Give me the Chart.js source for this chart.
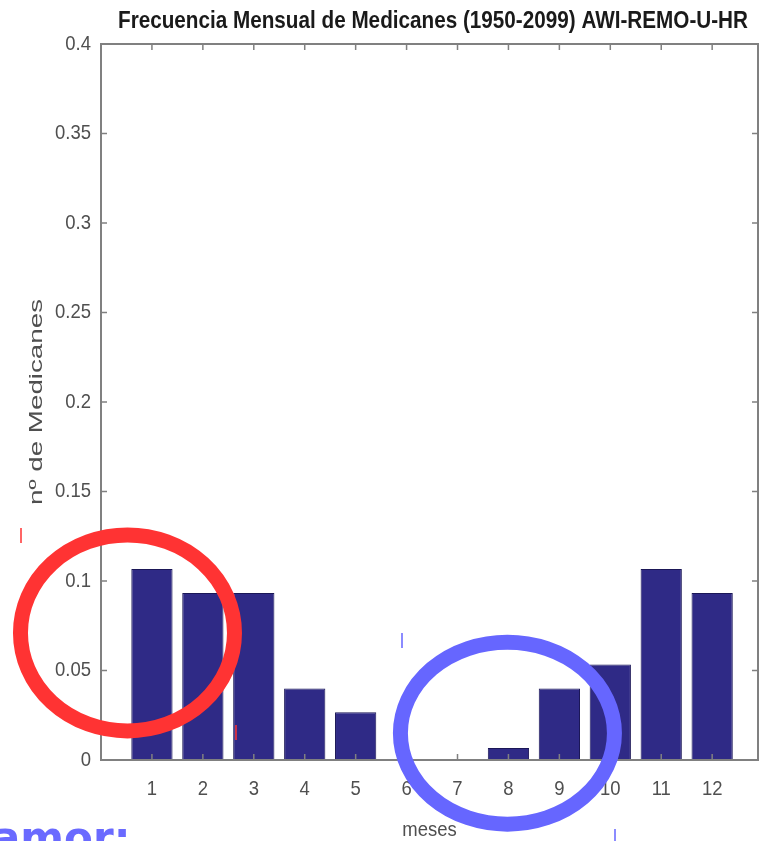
<!DOCTYPE html>
<html>
<head>
<meta charset="utf-8">
<script src="https://cdn.jsdelivr.net/npm/chart.js@4.4.1/dist/chart.umd.min.js"></script>
<style>
  html, body { margin: 0; padding: 0; background: #fff; }
  #wrap { width: 762px; height: 841px; position: relative; overflow: hidden; }
</style>
</head>
<body>
<div id="wrap"><canvas id="chart" width="762" height="841"></canvas></div>
<script>
// monthly medicane frequency, AWI-REMO-U-HR run
const months = [1, 2, 3, 4, 5, 6, 7, 8, 9, 10, 11, 12];
const monthLabels = ["1", "2", "3", "4", "5", "6", "7", "8", "9", "10", "11", "12"];
const medicanes = [0.1067, 0.0933, 0.0933, 0.04, 0.0267, 0, 0, 0.0067, 0.04, 0.0533, 0.1067, 0.0933];
const yTicks = [0, 0.05, 0.1, 0.15, 0.2, 0.25, 0.3, 0.35, 0.4];

const TITLE = "Frecuencia Mensual de Medicanes (1950-2099) AWI-REMO-U-HR";
const SANS = "'Liberation Sans', Arial, sans-serif";
const AXIS_GREY = "#808080";
const LABEL_GREY = "#4f4f4f";

// highlight rings, centred in data units
const rings = [
  { x: 0.52, y: 0.071, rx: 107, ry: 98, color: "#ff3333" },
  { x: 7.98, y: 0.015, rx: 107, ry: 91, color: "#6666ff" },
];

// condensed text: squeeze horizontally, keep the height
function squished(ctx, text, x, y, align, sx) {
  ctx.save();
  ctx.translate(x, y);
  ctx.scale(sx, 1);
  ctx.textAlign = align;
  ctx.fillText(text, 0, 0);
  ctx.restore();
}

const boxAndMarks = {
  id: "boxAndMarks",
  afterDatasetsDraw(chart) {
    const { ctx, chartArea: a, scales } = chart;
    ctx.save();
    ctx.strokeStyle = AXIS_GREY;
    ctx.lineWidth = 2;
    ctx.strokeRect(a.left, a.top, a.right - a.left, a.bottom - a.top);
    ctx.lineWidth = 1.5;
    ctx.beginPath();
    yTicks.forEach(v => {
      const py = scales.y.getPixelForValue(v);
      ctx.moveTo(a.left, py); ctx.lineTo(a.left + 6, py);
      ctx.moveTo(a.right, py); ctx.lineTo(a.right - 6, py);
    });
    months.forEach(m => {
      const px = scales.x.getPixelForValue(m);
      ctx.moveTo(px, a.bottom); ctx.lineTo(px, a.bottom - 6);
      ctx.moveTo(px, a.top); ctx.lineTo(px, a.top + 6);
    });
    ctx.stroke();

    // title
    ctx.fillStyle = "#1a1a1a";
    ctx.font = "bold 24px " + SANS;
    ctx.textAlign = "center";
    ctx.textBaseline = "middle";
    ctx.fillText(TITLE, 433, 21, 630);

    // tick labels
    ctx.fillStyle = LABEL_GREY;
    ctx.font = "21px " + SANS;
    yTicks.forEach(v => {
      squished(ctx, String(+v.toFixed(2)), a.left - 10, scales.y.getPixelForValue(v), "right", 0.88);
    });
    months.forEach((m, i) => {
      squished(ctx, monthLabels[i], scales.x.getPixelForValue(m), a.bottom + 29, "center", 0.88);
    });
    squished(ctx, "meses", (a.left + a.right) / 2, a.bottom + 70, "center", 0.88);

    // y axis title, stretched along its length
    const txt = "nº de Medicanes";
    ctx.font = "18px " + SANS;
    const w = ctx.measureText(txt).width;
    ctx.translate(37, (a.top + a.bottom) / 2);
    ctx.rotate(-Math.PI / 2);
    ctx.scale(206 / w, 1);
    ctx.textAlign = "center";
    ctx.fillText(txt, 0, 0);
    ctx.restore();
  },
  afterDraw(chart) {
    const { ctx, scales } = chart;
    ctx.save();
    rings.forEach(r => {
      ctx.beginPath();
      ctx.ellipse(scales.x.getPixelForValue(r.x), scales.y.getPixelForValue(r.y), r.rx, r.ry, 0, 0, Math.PI * 2);
      ctx.strokeStyle = r.color;
      ctx.lineWidth = 15;
      ctx.stroke();
    });
    // small pen marks
    ctx.lineWidth = 1.5;
    ctx.strokeStyle = "#ff3333";
    ctx.beginPath();
    ctx.moveTo(21, 528); ctx.lineTo(21, 543);
    ctx.moveTo(236, 725); ctx.lineTo(236, 740);
    ctx.stroke();
    ctx.strokeStyle = "#6666ff";
    ctx.beginPath();
    ctx.moveTo(402, 633); ctx.lineTo(402, 648);
    ctx.moveTo(615, 829); ctx.lineTo(615, 841);
    ctx.stroke();

    ctx.font = "bold 42px 'DejaVu Sans', sans-serif";
    ctx.fillStyle = "#6a6aff";
    ctx.textAlign = "left";
    ctx.textBaseline = "alphabetic";
    ctx.fillText("amor:", -8, 852);
    ctx.restore();
  }
};

new Chart(document.getElementById("chart"), {
  type: "bar",
  data: {
    datasets: [{
      data: months.map((m, i) => ({ x: m, y: medicanes[i] })),
      backgroundColor: "#2f2a86",
      borderColor: "#1b1757",
      borderWidth: 1,
      barPercentage: 0.81,
      categoryPercentage: 1,
    }],
  },
  options: {
    responsive: false,
    devicePixelRatio: 1,
    animation: false,
    layout: { padding: { top: 44, right: 4, left: 0, bottom: 0 } },
    plugins: {
      legend: { display: false },
      tooltip: { enabled: false },
      title: { display: false },
    },
    scales: {
      x: {
        type: "linear",
        offset: false,
        min: 0,
        max: 12.9,
        grid: { display: false },
        border: { display: false },
        afterBuildTicks: s => { s.ticks = months.map(v => ({ value: v })); },
        afterFit: s => { s.height = 81; },
        ticks: { display: false },
      },
      y: {
        min: 0,
        max: 0.4,
        grid: { display: false },
        border: { display: false },
        afterBuildTicks: s => { s.ticks = yTicks.map(v => ({ value: v })); },
        afterFit: s => { s.width = 101; },
        ticks: { display: false },
      },
    },
  },
  plugins: [boxAndMarks],
});
</script>
</body>
</html>
